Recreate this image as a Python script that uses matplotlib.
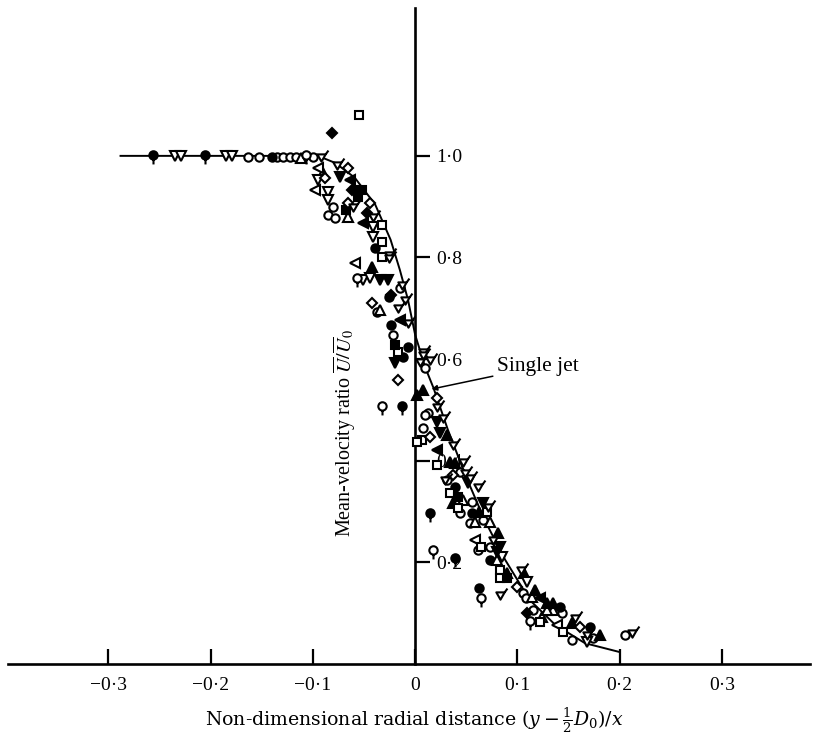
import matplotlib
matplotlib.use("Agg")
import matplotlib.pyplot as plt
from matplotlib.path import Path

plt.rcParams['font.family'] = ['Liberation Serif', 'DejaVu Serif']
plt.rcParams['mathtext.fontset'] = 'stix'

# ---------------- data ----------------
x_ticks = [-0.3, -0.2, -0.1, 0.0, 0.1, 0.2, 0.3]
x_tick_labels = ['\u22120\u00b73', '\u22120\u00b72', '\u22120\u00b71', '0', '0\u00b71', '0\u00b72', '0\u00b73']
y_ticks = [0.2, 0.4, 0.6, 0.8, 1.0]
y_tick_labels = ['0\u00b72', '0\u00b74', '0\u00b76', '0\u00b78', '1\u00b70']

# single jet curve
curve_x = [-0.288, -0.095, -0.078, -0.059, -0.039, -0.024, -0.015, -0.007, 0.0, 0.010,
           0.018, 0.032, 0.049, 0.068, 0.088, 0.112, 0.137, 0.166, 0.199]
curve_y = [1.0, 1.0, 0.986, 0.957, 0.904, 0.835, 0.776, 0.717, 0.648, 0.583,
           0.543, 0.461, 0.372, 0.283, 0.205, 0.126, 0.077, 0.041, 0.024]

open_circle_x = [-0.163, -0.153, -0.135, -0.129, -0.122, -0.116, -0.100, -0.080, -0.085, -0.078,
                 -0.015, -0.037, -0.022, 0.010, 0.008, 0.044, 0.044, 0.054, 0.073, 0.061,
                 0.105, 0.108, 0.115, 0.144, 0.153, 0.174, 0.205, 0.031, 0.056, 0.013,
                 0.010, 0.066]
open_circle_y = [0.998, 0.998, 0.998, 0.998, 0.998, 0.998, 0.998, 0.900, 0.884, 0.878,
                 0.740, 0.693, 0.648, 0.583, 0.465, 0.378, 0.297, 0.278, 0.230, 0.224,
                 0.140, 0.130, 0.106, 0.100, 0.047, 0.051, 0.057, 0.362, 0.319, 0.494,
                 0.490, 0.283]

filled_circle_x = [-0.140, -0.039, -0.026, -0.024, -0.007, -0.012, 0.039, 0.062, 0.142, 0.171,
                   0.056, 0.073]
filled_circle_y = [0.998, 0.819, 0.722, 0.667, 0.624, 0.604, 0.348, 0.150, 0.112, 0.073,
                   0.297, 0.205]

open_tri_up_x = [-0.112, -0.066, -0.034, 0.073, 0.114, 0.135, 0.124, 0.129, -0.090, 0.047,
                 0.059, 0.080]
open_tri_up_y = [0.996, 0.880, 0.697, 0.280, 0.132, 0.106, 0.093, 0.106, 0.967, 0.323,
                 0.280, 0.205]

filled_tri_up_x = [-0.042, 0.002, 0.008, 0.034, 0.037, 0.062, 0.081, 0.090, 0.106, 0.117,
                   0.129, 0.135, 0.153, 0.181, 0.039, 0.031]
filled_tri_up_y = [0.781, 0.530, 0.539, 0.398, 0.317, 0.299, 0.258, 0.179, 0.179, 0.146,
                   0.120, 0.120, 0.081, 0.057, 0.396, 0.451]

open_tri_down_x = [-0.235, -0.229, -0.185, -0.179, -0.085, -0.085, -0.041, -0.041, -0.051, -0.044,
                   0.085, 0.168, -0.095, 0.109]
open_tri_down_y = [1.0, 1.0, 1.0, 1.0, 0.929, 0.913, 0.860, 0.841, 0.756, 0.760,
                   0.211, 0.043, 0.953, 0.161]

filled_tri_down_x = [-0.034, -0.020, 0.021, 0.052, 0.066, 0.083, -0.027, 0.024, 0.080, -0.073]
filled_tri_down_y = [0.756, 0.593, 0.476, 0.356, 0.317, 0.230, 0.756, 0.455, 0.220, 0.959]

open_tri_left_x = [-0.095, -0.098, -0.059, 0.059, 0.139]
open_tri_left_y = [0.976, 0.933, 0.789, 0.244, 0.077]

filled_tri_left_x = [-0.051, -0.015, 0.021, 0.122, -0.064]
filled_tri_left_y = [0.868, 0.677, 0.421, 0.130, 0.953]

open_square_x = [-0.055, -0.032, -0.032, -0.032, -0.017, 0.007, 0.002, 0.021, 0.034, 0.042,
                 0.070, 0.064, 0.083, 0.083, 0.122, 0.145]
open_square_y = [1.081, 0.864, 0.801, 0.831, 0.614, 0.441, 0.437, 0.392, 0.337, 0.307,
                 0.299, 0.230, 0.185, 0.169, 0.083, 0.063]

filled_square_x = [-0.057, -0.052, -0.020, 0.042, 0.090, -0.056, -0.068]
filled_square_y = [0.933, 0.933, 0.628, 0.329, 0.169, 0.919, 0.894]

open_diamond_x = [-0.066, -0.066, -0.044, -0.042, -0.017, 0.021, 0.015, 0.100, 0.161, 0.037,
                  -0.088]
open_diamond_y = [0.976, 0.907, 0.907, 0.711, 0.559, 0.524, 0.447, 0.152, 0.073, 0.372,
                  0.957]

filled_diamond_x = [-0.081, -0.024, 0.109, -0.062, -0.047]
filled_diamond_y = [1.045, 0.726, 0.100, 0.933, 0.888]

tear_open_x = [-0.057, -0.032, 0.017, 0.064, 0.112, -0.107]
tear_open_y = [0.756, 0.504, 0.220, 0.126, 0.081, 0.998]

tear_filled_x = [-0.256, -0.205, -0.013, 0.015, 0.039]
tear_filled_y = [0.998, 0.998, 0.504, 0.293, 0.205]

flag_x = [-0.041, -0.026, -0.026, -0.013, -0.010, -0.017, -0.007, 0.008, 0.005, 0.015,
          0.008, 0.021, 0.027, 0.037, 0.047, 0.029, 0.049, 0.061, 0.071, 0.076,
          0.103, 0.083, 0.156, 0.168, 0.212, -0.076, -0.092, 0.054, -0.061]
flag_y = [0.880, 0.805, 0.799, 0.746, 0.717, 0.701, 0.671, 0.614, 0.594, 0.598,
          0.608, 0.506, 0.484, 0.431, 0.398, 0.362, 0.376, 0.348, 0.309, 0.244,
          0.185, 0.136, 0.091, 0.057, 0.061, 0.982, 0.998, 0.366, 0.900]

# ---------------- custom markers ----------------
_circ = Path.circle(center=(0, 0.3), radius=0.6)
_tail = Path([(0, -0.3), (0, -1.0)], [Path.MOVETO, Path.LINETO])
TEAR = Path.make_compound_path(_circ, _tail)

_tri = Path([(-0.6, 0.45), (0.6, 0.45), (0, -0.6), (-0.6, 0.45)],
            [Path.MOVETO, Path.LINETO, Path.LINETO, Path.CLOSEPOLY])
_flag = Path([(0.6, 0.45), (1.0, 1.0)], [Path.MOVETO, Path.LINETO])
FLAGV = Path.make_compound_path(_tri, _flag)

# ---------------- figure ----------------
fig = plt.figure(figsize=(8.15, 7.36), dpi=100)
ax = fig.add_axes([8 / 815, 72 / 736, 802 / 815, 656 / 736])
ax.set_xlim(-0.398, 0.386)
ax.set_ylim(0.0, 1.291)

ax.plot(curve_x, curve_y, color='black', lw=1.4, zorder=2)

MEW = 1.5
def pts(x, y, marker, ms, filled):
    ax.plot(x, y, ls='none', marker=marker, ms=ms,
            mfc='black' if filled else 'white', mec='black', mew=MEW,
            zorder=3, clip_on=False)

pts(open_circle_x, open_circle_y, 'o', 6, False)
pts(filled_circle_x, filled_circle_y, 'o', 6, True)
pts(open_tri_up_x, open_tri_up_y, '^', 6.5, False)
pts(filled_tri_up_x, filled_tri_up_y, '^', 6.5, True)
pts(open_tri_down_x, open_tri_down_y, 'v', 6.5, False)
pts(filled_tri_down_x, filled_tri_down_y, 'v', 6.5, True)
pts(open_tri_left_x, open_tri_left_y, '<', 6.5, False)
pts(filled_tri_left_x, filled_tri_left_y, '<', 6.5, True)
pts(open_square_x, open_square_y, 's', 5.5, False)
pts(filled_square_x, filled_square_y, 's', 5.5, True)
pts(open_diamond_x, open_diamond_y, 'D', 5.5, False)
pts(filled_diamond_x, filled_diamond_y, 'D', 5.5, True)
pts(tear_open_x, tear_open_y, TEAR, 10, False)
pts(tear_filled_x, tear_filled_y, TEAR, 10, True)
pts(flag_x, flag_y, FLAGV, 10, False)

# axes styling
ax.spines['top'].set_visible(False)
ax.spines['left'].set_visible(False)
ax.spines['right'].set_position(('data', 0))
ax.spines['bottom'].set_position(('data', 0))
for s in ('right', 'bottom'):
    ax.spines[s].set_linewidth(1.9)
ax.yaxis.tick_right()
ax.set_xticks(x_ticks)
ax.set_xticklabels(x_tick_labels)
ax.set_yticks(y_ticks)
ax.set_yticklabels(y_tick_labels)
ax.tick_params(axis='x', direction='in', length=11, width=1.6, pad=9, labelsize=14)
ax.tick_params(axis='y', direction='out', length=11, width=1.6, pad=4, labelsize=14)
ax.patch.set_visible(False)

ax.text(-0.069, 0.455, r'Mean-velocity ratio $\overline{U}/\overline{U}_0$', rotation=90,
        ha='center', va='center', fontsize=14.5)

ax.annotate('Single jet', xy=(0.016, 0.541), xytext=(0.080, 0.585),
            ha='left', va='center', fontsize=15.5,
            arrowprops=dict(arrowstyle='-|>', color='black', lw=1.1,
                            shrinkA=1, shrinkB=0, mutation_scale=8))

fig.text(414 / 815, 16 / 736, r'Non-dimensional radial distance $(y-\frac{1}{2}D_0)/x$',
         ha='center', va='center', fontsize=13.6, family='DejaVu Serif',
         math_fontfamily='dejavuserif')

fig.savefig('out.png', dpi=100, facecolor='white')
